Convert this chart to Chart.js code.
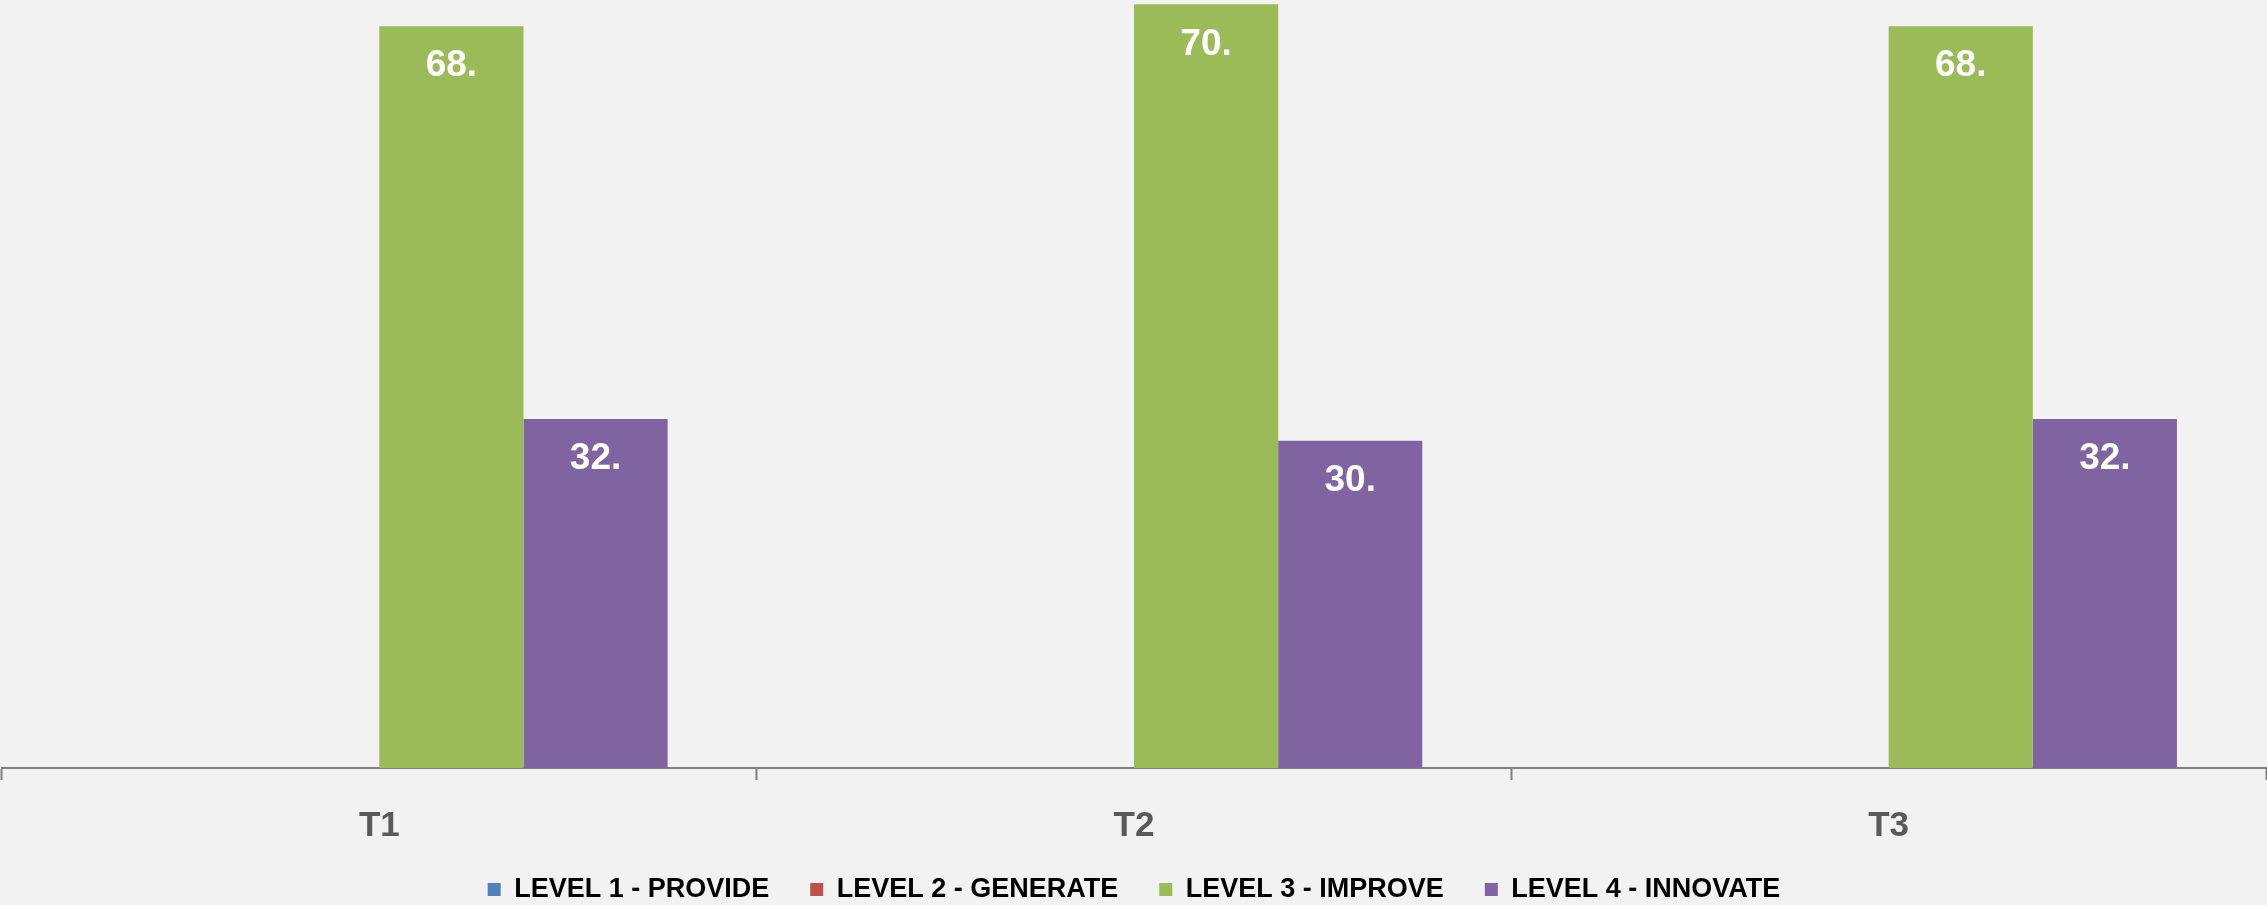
<!DOCTYPE html>
<html>
<head>
<meta charset="utf-8">
<script src="https://cdn.jsdelivr.net/npm/chart.js@4/dist/chart.umd.min.js"></script>
<style>
    html, body { margin: 0; padding: 0; background: #F2F2F2; }
    #wrap { width: 2267px; height: 905px; position: relative; }
</style>
</head>
<body>
<div id="wrap"><canvas id="chart"></canvas></div>
<script>
// ── data ────────────────────────────────────────────────────
const categories = ['T1', 'T2', 'T3'];
const seriesNames = ['LEVEL 1 - PROVIDE', 'LEVEL 2 - GENERATE', 'LEVEL 3 - IMPROVE', 'LEVEL 4 - INNOVATE'];
const level1 = [0, 0, 0];
const level2 = [0, 0, 0];
const level3 = [68, 70, 68];
const level4 = [32, 30, 32];
const seriesColors = ['#4F81BD', '#C0504D', '#9BBB59', '#8064A2'];

const FONT = '"Liberation Sans", Arial, sans-serif';

// White value labels just inside the top of each bar.
const barLabels = {
    id: 'barLabels',
    afterDatasetsDraw(chart) {
        const { ctx } = chart;
        ctx.save();
        ctx.fillStyle = '#FFFFFF';
        ctx.font = `bold 37px ${FONT}`;
        ctx.textAlign = 'center';
        ctx.textBaseline = 'middle';
        chart.data.datasets.forEach((ds, i) => {
            const meta = chart.getDatasetMeta(i);
            meta.data.forEach((bar, j) => {
                const v = ds.data[j];
                if (!v) return;
                ctx.fillText(`${v}.`, bar.x, bar.y + 40);
            });
        });
        ctx.restore();
    }
};

// The legend keeps its wide item spacing (labels.padding is used both ways),
// so give it a short layout box and then pull its top up under the axis labels.
const legendFit = {
    id: 'legendFit',
    beforeInit(chart) {
        const fit = chart.legend.fit;
        chart.legend.fit = function () {
            fit.bind(chart.legend)();
            this.height = 33;
        };
    },
    afterLayout(chart) {
        chart.legend.top -= 37;
    }
};

const allSeries = [level1, level2, level3, level4];

new Chart(document.getElementById('chart'), {
    type: 'bar',
    data: {
        labels: categories,
        datasets: allSeries.map((data, i) => ({
            label: seriesNames[i],
            data,
            backgroundColor: seriesColors[i],
            borderWidth: 0,
            barPercentage: 1.0,
            categoryPercentage: 0.764
        }))
    },
    options: {
        responsive: true,
        maintainAspectRatio: false,
        animation: false,
        layout: { padding: { left: 2, right: 1, top: 0, bottom: 0 } },
        scales: {
            x: {
                grid: {
                    display: true,
                    drawOnChartArea: false,
                    drawTicks: true,
                    tickLength: 12,
                    tickWidth: 2,
                    color: '#808080',
                    offset: true
                },
                border: { display: true, color: '#808080', width: 2 },
                ticks: {
                    color: '#595959',
                    padding: 25,
                    font: { family: FONT, size: 35, weight: 'bold' }
                }
            },
            y: {
                display: false,
                min: 0,
                max: 70.4
            }
        },
        plugins: {
            legend: {
                position: 'bottom',
                labels: {
                    boxWidth: 13,
                    boxHeight: 13,
                    padding: 41,
                    color: '#000000',
                    font: { family: FONT, size: 27, weight: 'bold' }
                }
            },
            tooltip: { enabled: false }
        }
    },
    plugins: [barLabels, legendFit]
});
</script>
</body>
</html>
